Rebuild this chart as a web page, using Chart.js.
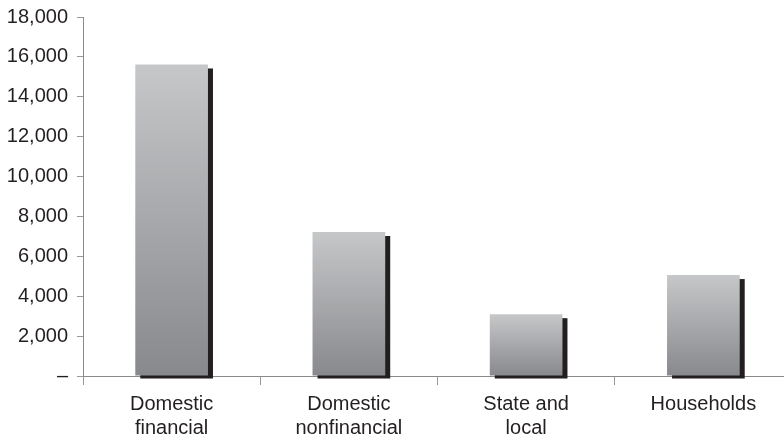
<!DOCTYPE html>
<html><head><meta charset="utf-8">
<script src="https://cdn.jsdelivr.net/npm/chart.js@4"></script>
<style>html,body{margin:0;padding:0;background:#fff;overflow:hidden;width:784px;height:441px}
#wrap{width:800px;height:445px;position:relative;margin-top:-4px}</style>
</head><body><div id="wrap"><canvas id="c" width="800" height="445"></canvas></div>
<script>
const categories = [["Domestic","financial"],["Domestic","nonfinancial"],["State and","local"],["Households"]];
const values = [15620, 7220, 3100, 5060];
const yTicks = [0,2000,4000,6000,8000,10000,12000,14000,16000,18000];

const shadowPlugin = {
  id:'shadow',
  beforeDatasetsDraw(chart){
    const ctx = chart.ctx;
    const meta = chart.getDatasetMeta(0);
    ctx.save();
    ctx.fillStyle = '#231f20';
    meta.data.forEach(b=>{
      const w = b.width;
      ctx.fillRect(b.x - w/2 + 5, b.y + 4, w, b.base - b.y - 1);
    });
    ctx.restore();
  }
};

function barGrad(c){
  const chart = c.chart;
  if (c.type !== 'data') return '#aaa';
  const y = chart.scales.y;
  if (!y) return '#aaa';
  const top = y.getPixelForValue(c.raw);
  const bot = y.getPixelForValue(0);
  if (!isFinite(top) || !isFinite(bot) || top === bot) return '#aaa';
  const g = chart.ctx.createLinearGradient(0, top, 0, bot);
  g.addColorStop(0, '#c6c7c9');
  g.addColorStop(1, '#88898c');
  return g;
}

new Chart(document.getElementById('c'), {
  type:'bar',
  data:{labels:categories, datasets:[{data:values, backgroundColor:barGrad, barPercentage:0.41, categoryPercentage:1.0, borderWidth:0}]},
  plugins:[shadowPlugin],
  options:{
    responsive:false, animation:false,
    layout:{padding:{top:12,right:8,left:0,bottom:0}},
    plugins:{legend:{display:false},tooltip:{enabled:false}},
    scales:{
      x:{
        grid:{display:true, drawOnChartArea:false, offset:true, tickLength:9, color:'#999', lineWidth:1},
        border:{display:true,color:'#8a8a8a',width:1},
        ticks:{color:'#231f20', font:{family:'Liberation Sans, Arial', size:20, lineHeight:1.2}, padding:7, maxRotation:0, autoSkip:false},
        afterFit(s){ s.height = 65; }
      },
      y:{
        min:0,max:18000,
        afterBuildTicks(s){ s.ticks = yTicks.map(v=>({value:v})); },
        grid:{display:true, drawOnChartArea:false, tickLength:6, color:'#999'},
        border:{display:true,color:'#8a8a8a',width:1},
        ticks:{color:'#231f20', font:{family:'Liberation Sans, Arial', size:20}, padding:9,
          callback:v=> v===0 ? '–' : v.toLocaleString('en-US')},
        afterFit(s){ s.width = 83; }
      }
    }
  }
});
</script></body></html>
